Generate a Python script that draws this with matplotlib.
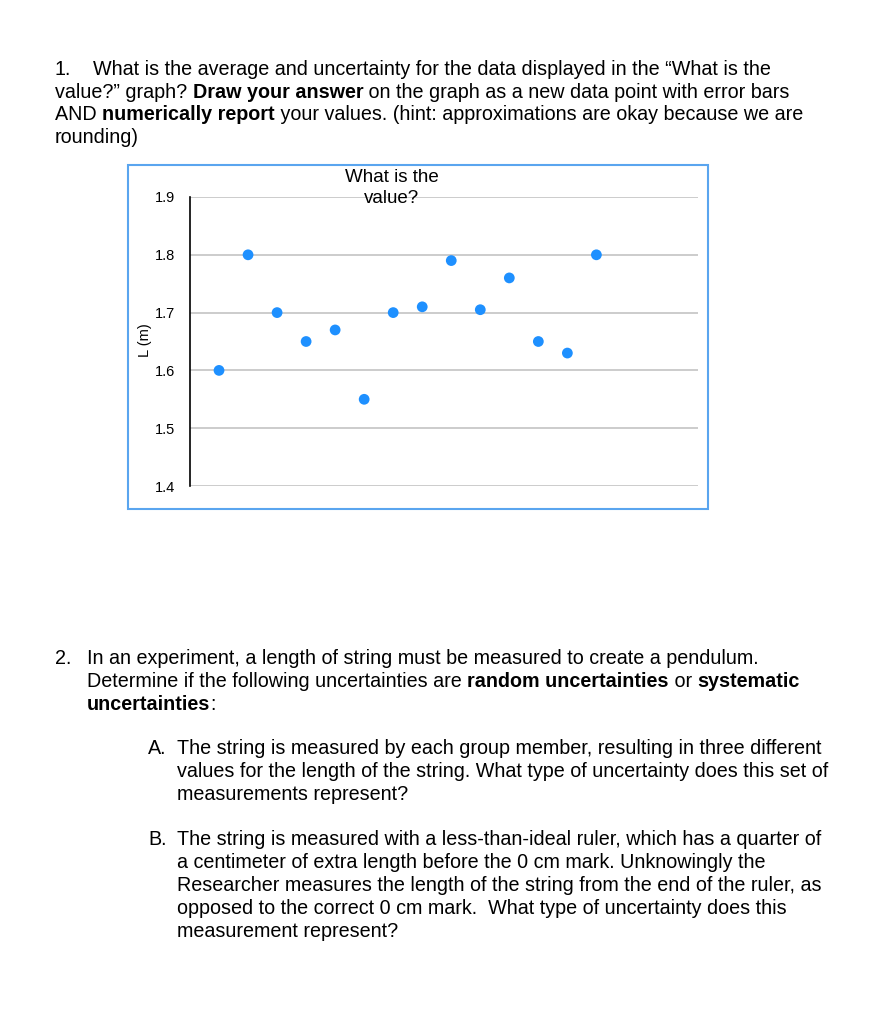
import matplotlib.pyplot as plt
from matplotlib.patches import Rectangle

plt.rcParams['font.family'] = ['Liberation Sans', 'DejaVu Sans']

# measurements shown in the "What is the value?" chart
trial = [1, 2, 3, 4, 5, 6, 7, 8, 9, 10, 11, 12, 13, 14]
length_m = [1.60, 1.80, 1.70, 1.65, 1.67, 1.55, 1.70, 1.71, 1.79, 1.705, 1.76, 1.65, 1.63, 1.80]
y_ticks = [1.4, 1.5, 1.6, 1.7, 1.8, 1.9]

W, H = 879, 1024
fig = plt.figure(figsize=(W / 100, H / 100), dpi=100)
fig.patch.set_facecolor('white')
renderer = fig.canvas.get_renderer()

FS = 14.2


def px(x, y):
    return x / W, 1 - y / H


def draw_line(x, y, pieces, size=FS):
    # pieces: list of (text, bold) drawn one after another on a baseline
    cx = x
    for s, bold in pieces:
        fx, fy = px(cx, y)
        t = fig.text(fx, fy, s, fontsize=size, va='baseline', ha='left',
                     fontweight='bold' if bold else 'normal')
        bb = t.get_window_extent(renderer=renderer)
        cx += bb.width


# question 1
draw_line(55, 75, [("1.", False)])
draw_line(93, 75, [("What is the average and uncertainty for the data displayed in the \u201cWhat is the", False)])
draw_line(55, 98, [("value?\u201d graph? ", False), ("Draw your answer", True),
                   (" on the graph as a new data point with error bars", False)])
draw_line(55, 120, [("AND ", False), ("numerically report", True),
                    (" your values. (hint: approximations are okay because we are", False)])
draw_line(55, 143, [("rounding)", False)])

# chart box
fig.patches.append(Rectangle(px(128, 509), 580 / W, 344 / H, transform=fig.transFigure,
                             fill=False, edgecolor='#5aa5ef', linewidth=1.5))

l, b = px(190, 486)
r, t = px(698, 197)
ax = fig.add_axes([l, b, r - l, t - b])
ax.scatter(trial, length_m, s=60, color='#1e90ff', zorder=3, edgecolors='none')
ax.set_xlim(0, 17.5)
ax.set_ylim(1.4, 1.9)
ax.set_yticks(y_ticks)
ax.set_yticklabels(['%.1f' % v for v in y_ticks], fontsize=10.5)
ax.set_xticks([])
ax.grid(axis='y', color='#c4c4c4', linewidth=1.2)
ax.set_axisbelow(True)
for sp in ['top', 'right', 'bottom']:
    ax.spines[sp].set_visible(False)
ax.spines['left'].set_color('black')
ax.spines['left'].set_linewidth(1.2)
ax.tick_params(axis='y', length=0, pad=11)
ax.set_ylabel('L (m)', fontsize=10.5)
ax.yaxis.set_label_coords(-0.074, 0.505)
fig.text(*px(392, 188), "What is the\nvalue?", fontsize=13.5, ha='center', va='center',
         linespacing=1.35)

# question 2
draw_line(55, 664, [("2.", False)])
draw_line(87, 664, [("In an experiment, a length of string must be measured to create a pendulum.", False)])
draw_line(87, 687, [("Determine if the following uncertainties are ", False), ("random uncertainties", True),
                    (" or ", False), ("systematic", True)])
draw_line(87, 710, [("uncertainties", True), (":", False)])

draw_line(148, 754, [("A.", False)])
draw_line(177, 754, [("The string is measured by each group member, resulting in three different", False)])
draw_line(177, 777, [("values for the length of the string. What type of uncertainty does this set of", False)])
draw_line(177, 800, [("measurements represent?", False)])

draw_line(148, 845, [("B.", False)])
draw_line(177, 845, [("The string is measured with a less-than-ideal ruler, which has a quarter of", False)])
draw_line(177, 868, [("a centimeter of extra length before the 0 cm mark. Unknowingly the", False)])
draw_line(177, 891, [("Researcher measures the length of the string from the end of the ruler, as", False)])
draw_line(177, 914, [("opposed to the correct 0 cm mark.  What type of uncertainty does this", False)])
draw_line(177, 937, [("measurement represent?", False)])

fig.savefig('out.png', dpi=100)
